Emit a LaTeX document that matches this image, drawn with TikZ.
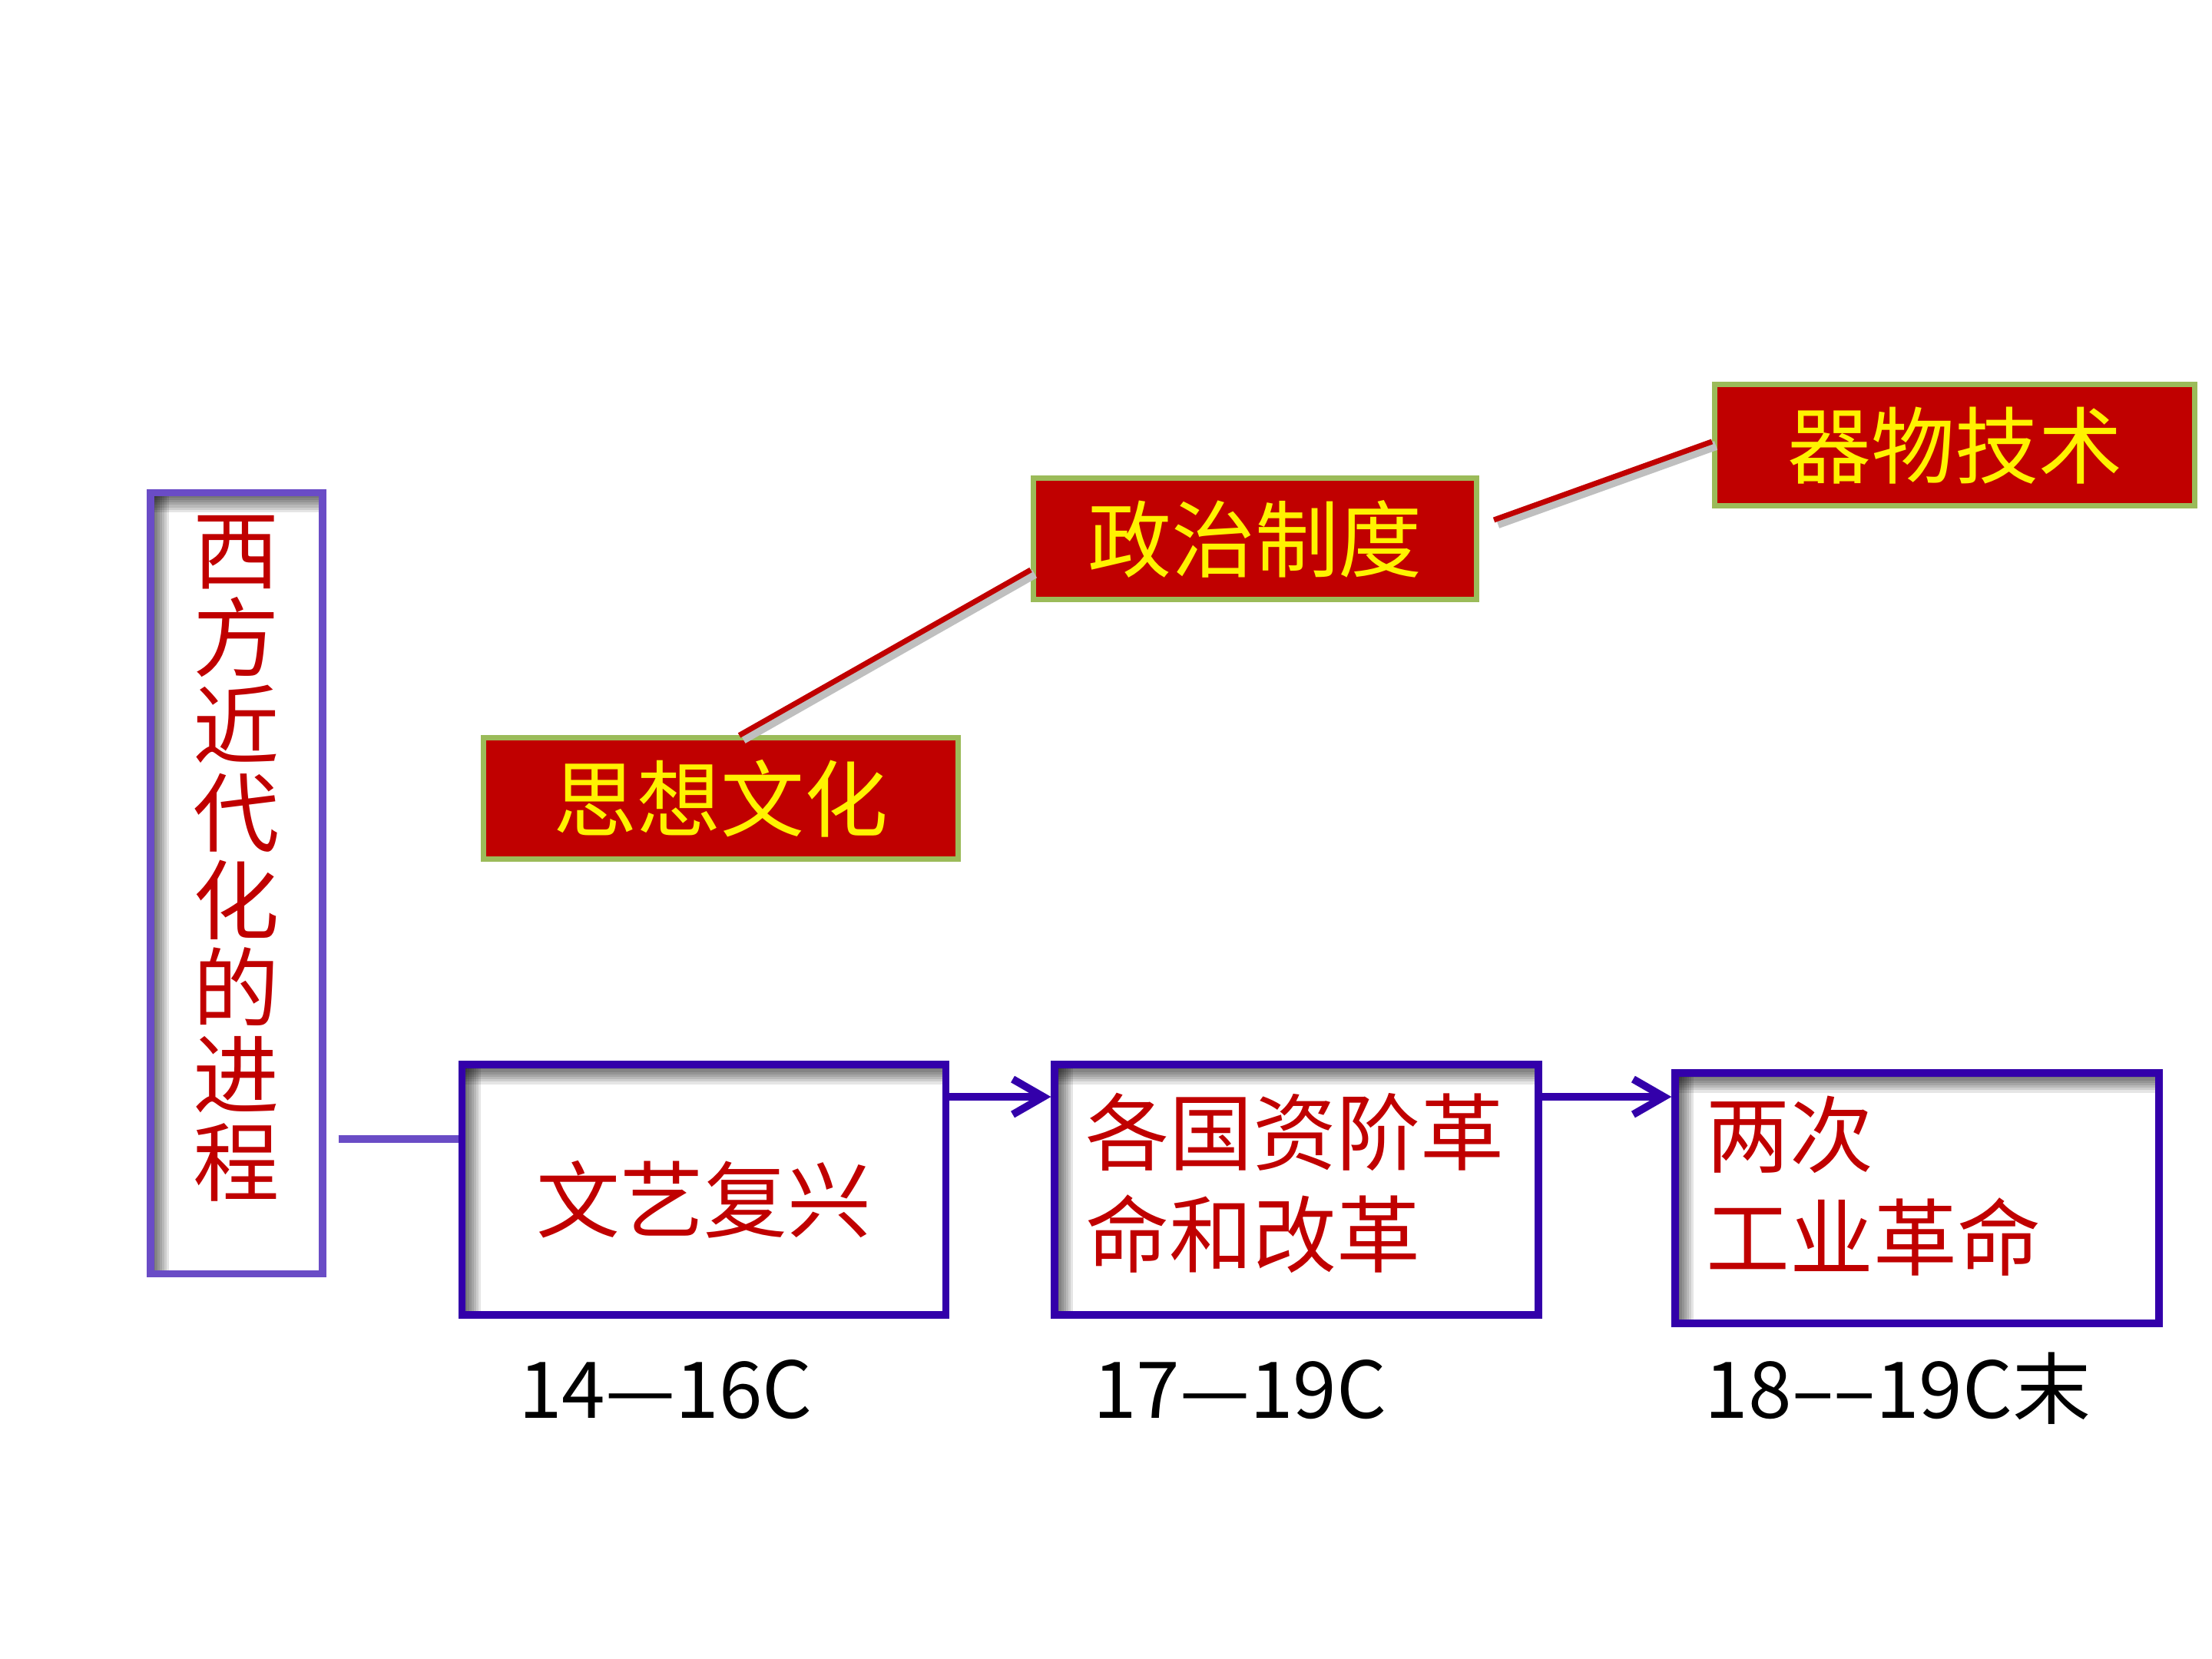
\documentclass[tikz,border=0pt]{standalone}
\usepackage{fontspec}
\newfontfamily\cjk{Noto Sans CJK SC}
\usepackage{tikz}
\usetikzlibrary{positioning,calc,arrows.meta}

\definecolor{titlered}{HTML}{C00000}
\definecolor{boxblue}{HTML}{3300AA}
\definecolor{axispurple}{HTML}{6A4CC6}
\definecolor{bordergreen}{HTML}{9BBB59}

% text block inside an era box
\newcommand{\eratext}[2][t]{\parbox[c][2.66cm][#1]{5.5cm}{#2}}

\tikzset{
  inner_shadow/.style={path picture={
      \foreach \k in {1,...,8}{
        \fill[black, opacity=0.1] (path picture bounding box.north west) rectangle ([yshift=-\k*0.032cm]path picture bounding box.north east);
        \fill[black, opacity=0.1] (path picture bounding box.north west) rectangle ([xshift=\k*0.03cm]path picture bounding box.south west);
      }
  }},
  era_box/.style={draw=boxblue, line width=2.8pt, inner_shadow, minimum width=6.3cm, minimum height=3.26cm,
    inner xsep=0.4cm, inner ysep=0.3cm, text=titlered, font=\cjk\fontsize{31}{38}\selectfont},
  axis_box/.style={draw=axispurple, line width=2.6pt, inner_shadow, minimum width=2.24cm, minimum height=10.17cm,
    inner sep=0.3cm, text=titlered, font=\cjk\fontsize{32}{32.4}\selectfont},
  aspect_box/.style={draw=bordergreen, line width=2pt, fill=titlered, text=yellow, minimum width=6.18cm,
    minimum height=1.58cm, font=\cjk\fontsize{31}{31}\selectfont},
  period_label/.style={anchor=base west, inner sep=0pt, font=\cjk\fontsize{29}{29}\selectfont},
  flow_arrow/.style={draw=boxblue, line width=2.8pt, -{Straight Barb[length=4mm, width=4.6mm]}},
  axis_link/.style={draw=axispurple, line width=2.8pt},
  aspect_link/.style={draw=titlered, line width=2pt,
    preaction={draw=black!25, line width=3.5pt, transform canvas={xshift=0.05cm, yshift=-0.05cm}}},
}

\begin{document}
\begin{tikzpicture}
      \path[use as bounding box, fill=white] (0,0) rectangle (28.8,21.6);

      % nodes

      %eras
      \node[era_box] (renaissance) at (9.165,6.11) {\eratext[c]{\centering\vspace*{0.26cm}文艺复兴}};
      \node[era_box, right=1.32cm of renaissance] (bourgeois_revolution) {\eratext{\vspace*{0.07cm}各国资阶革\\命和改革}};
      \node[era_box, right=1.68cm of bourgeois_revolution, yshift=-0.11cm] (industrial_revolution) {\eratext{两次\\工业革命}};

      %axis
      \node[axis_box, left=1.72cm of renaissance, yshift=3.99cm] (western_modernization)
        {\parbox[c][9.57cm][t]{1.2cm}{\centering 西\\方\\近\\代\\化\\的\\进\\程}};

      %aspects
      \node[aspect_box] (thought_culture) at (9.385,11.20) {思想文化};
      \node[aspect_box, right=0.91cm of thought_culture, yshift=3.38cm, minimum width=5.77cm] (political_system) {政治制度};
      \node[aspect_box, right=3.03cm of political_system, yshift=1.22cm, minimum width=6.25cm] (material_technology) {器物技术};

      %periods
      \node[period_label] (renaissance_period) at ([xshift=0.78cm, yshift=-1.30cm] renaissance.south west) {14—16C};
      \node[period_label] (revolution_period) at ([xshift=0.54cm, yshift=-1.30cm] bourgeois_revolution.south west) {17—19C};
      \node[period_label] (industry_period) at ([xshift=0.43cm, yshift=-1.19cm] industrial_revolution.south west) {18––19C末};

      % edges
      \coordinate (renaissance_in) at ([yshift=0.66cm] renaissance.west);
      \coordinate (renaissance_out) at ([yshift=-0.47cm] renaissance.north east);
      \coordinate (revolution_out) at ([yshift=-0.47cm] bourgeois_revolution.north east);

      \draw[axis_link] ($(western_modernization.east |- renaissance_in)+(0.16,0)$) -- (renaissance_in);
      \draw[flow_arrow] (renaissance_out) -- (renaissance_out -| bourgeois_revolution.west);
      \draw[flow_arrow] (revolution_out) -- (revolution_out -| industrial_revolution.west);

      \draw[aspect_link] ([xshift=0.24cm] thought_culture.north) -- ([yshift=-0.40cm] political_system.west);
      \draw[aspect_link] ([xshift=0.19cm, yshift=0.25cm] political_system.east) -- ([yshift=0.05cm] material_technology.west);

\end{tikzpicture}
\end{document}
